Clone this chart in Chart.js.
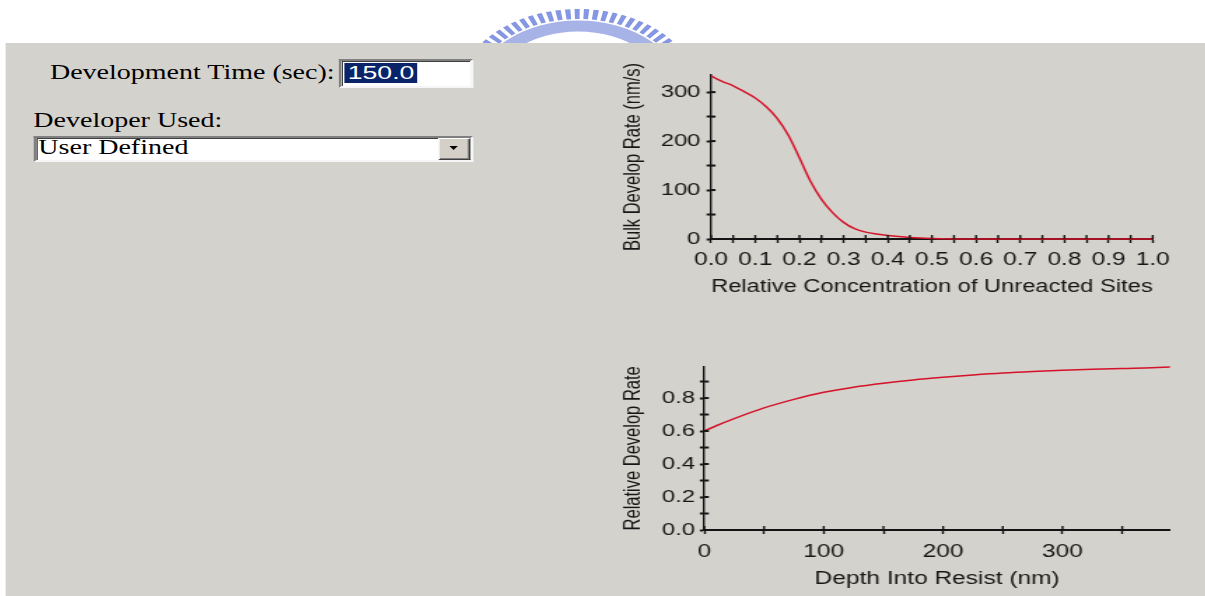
<!DOCTYPE html>
<html>
<head>
<meta charset="utf-8">
<script src="https://cdn.jsdelivr.net/npm/chart.js@4.4.0/dist/chart.umd.min.js"></script>
<style>
    html, body { margin: 0; padding: 0; background: #fff; overflow: hidden; }
    body { width: 1205px; height: 596px; position: relative; }
    /* the whole dialog is stretched sideways like the screenshot */
    #stage { position: absolute; left: 0; top: 0; width: 861px; height: 596px;
             transform: scaleX(1.4); transform-origin: 0 0; }
    #logo { position: absolute; left: 298px; top: 0; }
    #panel { position: absolute; left: 4.3px; top: 43px; right: 0; bottom: 0; background: #d4d2cc; }
    .lbl { position: absolute; font: 20px 'Liberation Serif', 'Times New Roman', serif;
           line-height: 20px; color: #000; white-space: nowrap; }
    .sunken { position: absolute; box-sizing: border-box; background: #fff;
              border: 2px solid; border-color: #808080 #f6f6f6 #f6f6f6 #808080;
              box-shadow: inset 1px 1px 0 #404040; }
    #timeBox { left: 241.6px; top: 59.3px; width: 96px; height: 29px; }
    #timeBox .sel { position: absolute; left: 2.8px; top: 2px; height: 20px; padding: 0 2px;
                    background: #0a246a; color: #fff; font: 19px 'Liberation Sans', Arial, sans-serif;
                    line-height: 20px; }
    #combo { left: 23.8px; top: 136px; width: 313.9px; height: 25.7px; }
    #combo .txt { position: absolute; left: 1.6px; top: -1px; }
    #combo .btn { position: absolute; right: 0; top: 0; bottom: 0; width: 23px; box-sizing: border-box;
                  background: #d4d0c8; border: 1.5px solid; border-color: #fff #404040 #404040 #fff;
                  box-shadow: inset -1px -1px 0 #808080; }
    #combo .tri { position: absolute; left: 50%; top: 50%; margin: -2.5px 0 0 -3.6px; width: 0; height: 0;
                  border-left: 3.6px solid transparent; border-right: 3.6px solid transparent;
                  border-top: 4.6px solid #000; }
    canvas { position: absolute; }
    #rateChart { left: 430px; top: 45px; }
    #depthChart { left: 425px; top: 340px; }
</style>
</head>
<body>
<div id="stage">
    <svg id="logo" width="230" height="60" viewBox="0 0 230 60">
        <circle cx="115" cy="96" r="82" fill="none" stroke="#8597e2" stroke-width="10" stroke-dasharray="3.6 2.9"/>
        <circle cx="115" cy="96" r="70" fill="none" stroke="#a7b2e6" stroke-width="11"/>
    </svg>
    <div id="panel"></div>

    <div class="lbl" style="left:35.7px; top:61.5px;">Development Time (sec):</div>
    <div id="timeBox" class="sunken"><span class="sel">150.0</span></div>

    <div class="lbl" style="left:23.8px; top:110px;">Developer Used:</div>
    <div id="combo" class="sunken">
        <span class="lbl txt">User Defined</span>
        <div class="btn"><div class="tri"></div></div>
    </div>

    <canvas id="rateChart" width="420" height="265"></canvas>
    <canvas id="depthChart" width="430" height="256"></canvas>
</div>

<script>
// --- DATA ---
// Bulk develop rate vs relative concentration of unreacted sites
const concX    = [0, 0.025, 0.05, 0.075, 0.1, 0.125, 0.15, 0.175, 0.2, 0.225, 0.25, 0.275,
                  0.3, 0.325, 0.35, 0.375, 0.4, 0.45, 0.5, 0.6, 0.7, 0.8, 0.9, 1.0];
const bulkRate = [333, 322, 313, 301, 288, 270, 246, 212, 166, 118, 81, 54,
                  34, 21, 14, 10, 7, 3, 1, 0, 0, 0, 0, 0];

// Relative develop rate vs depth into resist
const depthNm  = [0, 10, 25, 50, 75, 100, 125, 150, 175, 200, 225, 250, 275, 300, 325, 350, 375, 390];
const relRate  = [0.60, 0.632, 0.675, 0.74, 0.792, 0.835, 0.866, 0.89, 0.91, 0.926, 0.94, 0.952,
                  0.961, 0.968, 0.974, 0.979, 0.983, 0.988];

// axis ranges: [min, max, tick step, label every n ticks]
const rateXAxis  = [0, 1.0, 0.05, 2];
const rateYAxis  = [0, 335, 50, 2];
const depthXAxis = [0, 390, 50, 2];
const depthYAxis = [0, 0.99, 0.1, 2];

// --- STYLE CONSTANTS ---
const AXIS_COLOR = '#141414';
const TEXT_COLOR = '#161616';
const CURVE_COLOR = '#d4122a';
const FONT = "'Liberation Sans', Arial, sans-serif";

// --- PLUGIN: ticks that cross the axis (inner half) ---
const innerTicks = {
    id: 'innerTicks',
    afterDraw(chart) {
        const { ctx, chartArea } = chart;
        const xs = chart.scales.x, ys = chart.scales.y;
        ctx.save();
        ctx.strokeStyle = AXIS_COLOR;
        ctx.lineWidth = 1.4;
        xs.ticks.forEach(t => {
            const px = xs.getPixelForValue(t.value);
            ctx.beginPath();
            ctx.moveTo(px, chartArea.bottom);
            ctx.lineTo(px, chartArea.bottom - 4);
            ctx.stroke();
        });
        ctx.lineWidth = 2;
        ys.ticks.forEach(t => {
            const py = ys.getPixelForValue(t.value);
            ctx.beginPath();
            ctx.moveTo(chartArea.left, py);
            ctx.lineTo(chartArea.left + 3.2, py);
            ctx.stroke();
        });
        ctx.restore();
    }
};

// --- AXIS BUILDERS ---
function isLabelled(v, step, every) {
    return Math.round(v / step) % every === 0;
}

function xAxis(range, title, fmt, labelPad, height) {
    const [min, max, step, every] = range;
    return {
        type: 'linear', position: 'bottom', min, max,
        border: { color: AXIS_COLOR, width: 2 },
        grid: { drawOnChartArea: false, drawTicks: true, tickLength: 4, tickWidth: 1.4, tickColor: AXIS_COLOR },
        ticks: {
            stepSize: step, includeBounds: false, autoSkip: false, maxRotation: 0,
            padding: labelPad, color: TEXT_COLOR, font: { family: FONT, size: 17.5 },
            callback: v => isLabelled(v, step, every) ? fmt(v) : ''
        },
        title: { display: true, text: title, color: TEXT_COLOR, font: { family: FONT, size: 17.5 }, padding: 0 },
        afterFit: s => { s.height = height; }
    };
}

function yAxis(range, title, fmt, labelPad, width) {
    const [min, max, step, every] = range;
    return {
        type: 'linear', position: 'left', min, max,
        border: { color: AXIS_COLOR, width: 1.4 },
        grid: { drawOnChartArea: false, drawTicks: true, tickLength: 3.2, tickWidth: 2, tickColor: AXIS_COLOR },
        ticks: {
            stepSize: step, includeBounds: false, autoSkip: false,
            padding: labelPad, color: TEXT_COLOR, font: { family: FONT, size: 17 },
            callback: v => isLabelled(v, step, every) ? fmt(v) : ''
        },
        title: { display: true, text: title, color: TEXT_COLOR, font: { family: FONT, size: 16.5 }, padding: { top: 1, bottom: 0 } },
        afterFit: s => { s.width = width; }
    };
}

function curve(xs, ys) {
    return {
        data: xs.map((x, i) => ({ x, y: ys[i] })),
        borderColor: CURVE_COLOR,
        borderWidth: 1.5,
        pointRadius: 0,
        cubicInterpolationMode: 'monotone',
        clip: false
    };
}

function baseOptions(padding, scales) {
    return {
        responsive: false,
        maintainAspectRatio: false,
        animation: false,
        layout: { padding },
        plugins: { legend: { display: false }, tooltip: { enabled: false } },
        scales
    };
}

// --- CHARTS ---
new Chart(document.getElementById('rateChart'), {
    type: 'line',
    data: { datasets: [curve(concX, bulkRate)] },
    options: baseOptions(
        { left: 11.5, right: 26.6, top: 30, bottom: 12 },
        {
            x: xAxis(rateXAxis, 'Relative Concentration of Unreacted Sites', v => v.toFixed(1), 6.5, 59),
            y: yAxis(rateYAxis, 'Bulk Develop Rate (nm/s)', v => String(v), 4.4, 66.4)
        }
    ),
    plugins: [innerTicks]
});

new Chart(document.getElementById('depthChart'), {
    type: 'line',
    data: { datasets: [curve(depthNm, relRate)] },
    options: baseOptions(
        { left: 16.2, right: 19.3, top: 26.7, bottom: 6.2 },
        {
            x: xAxis(depthXAxis, 'Depth Into Resist (nm)', v => String(v), 7.2, 59.8),
            y: yAxis(depthYAxis, 'Relative Develop Rate', v => v.toFixed(1), 3.4, 61.9)
        }
    ),
    plugins: [innerTicks]
});
</script>
</body>
</html>
